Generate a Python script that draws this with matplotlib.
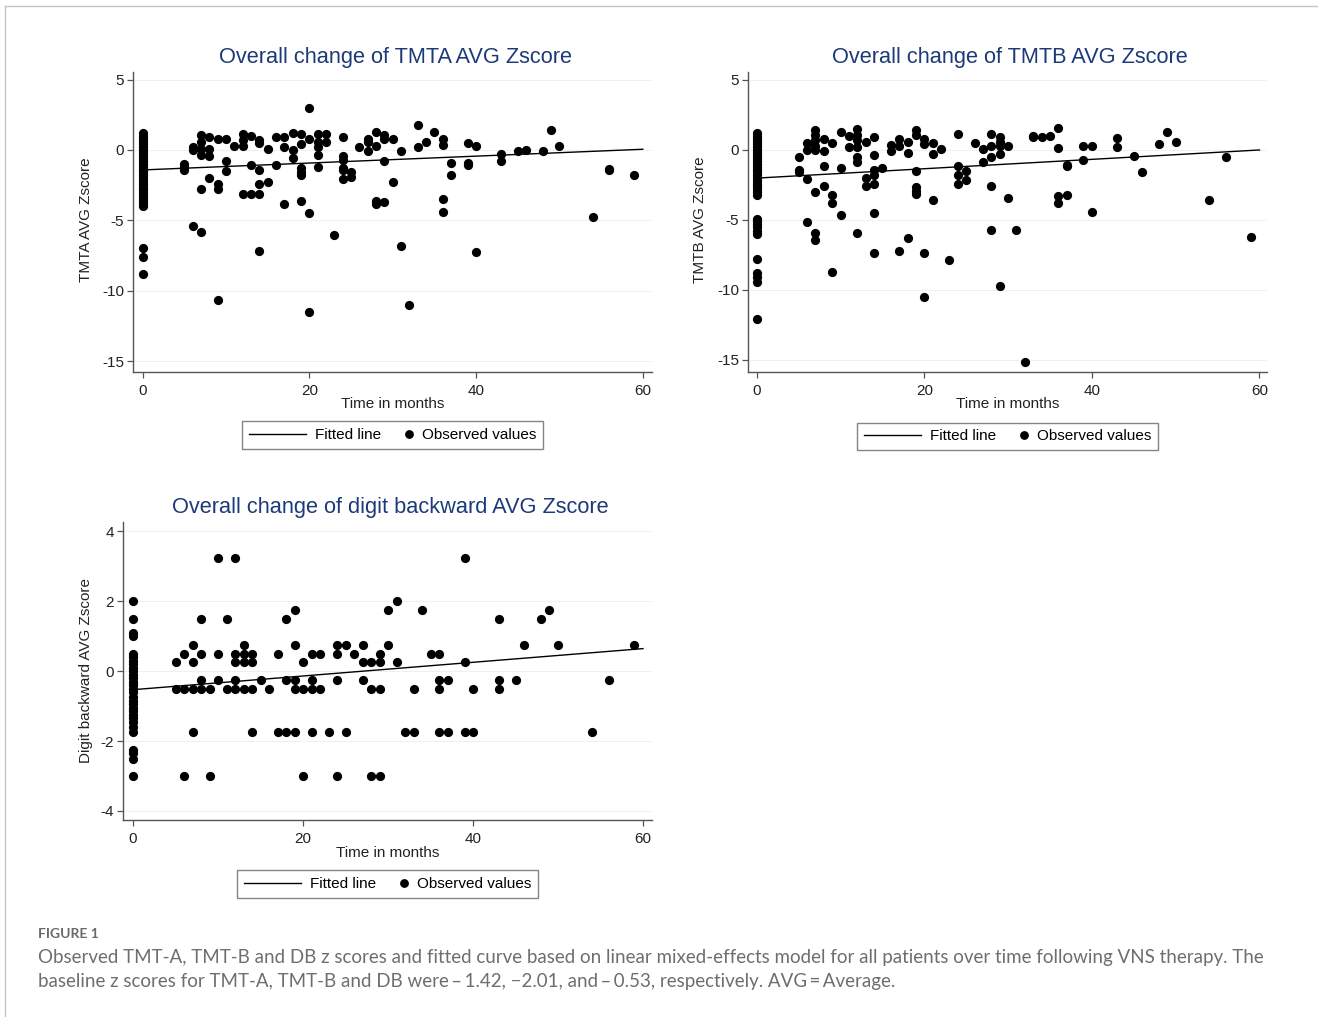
import matplotlib
matplotlib.use("Agg")
import matplotlib.pyplot as plt
from matplotlib.lines import Line2D
from matplotlib.legend_handler import HandlerBase
import numpy as np

plt.rcParams['font.family'] = ['Liberation Sans', 'DejaVu Sans']
plt.rcParams['axes.unicode_minus'] = False

# ---------------- data ----------------
tmta_time = ([0]*30 + [5]*3 + [6]*3 + [7]*6 + [8]*4 + [9]*4 + [10]*3 + [11] + [12]*4 + [13]*3 +
             [14]*6 + [15]*2 + [16]*2 + [17]*3 + [18]*3 + [19]*6 + [20]*4 + [21]*5 + [22]*2 + [23] +
             [24]*6 + [25]*2 + [26] + [27]*3 + [28]*4 + [29]*4 + [30]*2 + [31]*2 + [32] + [33]*2 +
             [34] + [35] + [36]*4 + [37]*2 + [39]*3 + [40]*2 + [43]*2 + [45] + [46] + [48] + [49] +
             [50] + [54] + [56]*2 + [59])
tmta_z = [1.2, 1.0, 0.8, 0.6, 0.4, 0.2, 0.0, -0.2, -0.4, -0.6, -0.8, -1.0, -1.2, -1.4, -1.6, -1.8,
          -2.0, -2.2, -2.4, -2.6, -2.8, -3.0, -3.2, -3.4, -3.6, -3.8, -4.0, -7.0, -7.6, -8.8,
          -1.0, -1.2, -1.4,
          0.2, 0.0, -5.4,
          1.05, 0.6, 0.1, -0.35, -2.8, -5.8,
          0.9, 0.05, -0.45, -2.0,
          0.8, -2.4, -2.75, -10.65,
          0.8, -0.8, -1.5,
          0.25,
          1.15, 0.7, 0.3, -3.15,
          1.0, -1.1, -3.15,
          0.7, 0.5, -1.4, -2.4, -3.15, -7.2,
          0.05, -2.25,
          0.9, -1.1,
          0.9, 0.2, -3.85,
          1.2, 0.0, -0.6,
          1.1, 0.45, -1.3, -1.6, -1.8, -3.6,
          3.0, 0.8, -4.5, -11.5,
          1.1, 0.6, 0.2, -0.35, -1.2,
          1.1, 0.6,
          -6.05,
          0.9, -0.45, -0.7, -1.3, -1.45, -2.05,
          -1.6, -1.9,
          0.2,
          0.8, 0.6, -0.1,
          1.3, 0.25, -3.6, -3.85,
          1.05, 0.75, -0.75, -3.7,
          0.8, -2.25,
          -0.05, -6.8,
          -11.05,
          1.8, 0.2,
          0.6,
          1.3,
          0.75, 0.35, -3.45, -4.4,
          -0.95, -1.75,
          0.5, -0.9, -1.05,
          0.3, -7.25,
          -0.3, -0.8,
          -0.1,
          0.0,
          -0.05,
          1.45,
          0.25,
          -4.75,
          -1.35, -1.45,
          -1.8]

tmtb_time = ([0]*34 + [5]*3 + [6]*4 + [7]*8 + [8]*4 + [9]*4 + [10]*3 + [11]*2 + [12]*7 + [13]*3 +
             [14]*7 + [15] + [16]*2 + [17]*3 + [18]*3 + [19]*6 + [20]*4 + [21]*3 + [22] + [23] +
             [24]*4 + [25]*2 + [26] + [27]*2 + [28]*5 + [29]*5 + [30]*2 + [31] + [32] + [33]*2 +
             [34] + [35] + [36]*4 + [37]*3 + [39]*2 + [40]*2 + [43]*2 + [45] + [46] + [48] + [49] +
             [50] + [54] + [56] + [59])
tmtb_z = [1.2, 1.0, 0.8, 0.6, 0.4, 0.2, 0.0, -0.2, -0.4, -0.6, -0.8, -1.0, -1.2, -1.4, -1.6, -1.8,
          -2.0, -2.2, -2.4, -2.6, -2.8, -3.0, -3.2, -4.9, -5.1, -5.3, -5.5, -5.8, -6.0, -7.8, -8.8,
          -9.1, -9.4, -12.1,
          -0.5, -1.45, -1.55,
          0.5, 0.0, -2.1, -5.15,
          1.45, 1.05, 0.7, 0.25, 0.0, -3.0, -5.9, -6.4,
          0.75, -0.05, -1.15, -2.6,
          0.5, -3.2, -3.8, -8.7,
          1.3, -1.3, -4.65,
          1.0, 0.2,
          1.5, 1.05, 0.7, 0.2, -0.5, -0.85, -5.95,
          0.6, -2.0, -2.6,
          0.95, -0.35, -1.45, -1.8, -2.4, -4.5, -7.35,
          -1.3,
          0.35, -0.05,
          0.8, 0.3, -7.2,
          0.6, -0.25, -6.3,
          1.45, 1.05, -1.5, -2.65, -2.9, -3.15,
          0.75, 0.45, -7.35, -10.5,
          0.5, -0.3, -3.55,
          0.05,
          -7.85,
          1.15, -1.15, -1.8, -2.4,
          -1.5, -2.15,
          0.5,
          0.05, -0.85,
          1.15, 0.3, -0.5, -2.55, -5.75,
          0.9, 0.6, 0.25, -0.3, -9.7,
          0.3, -3.45,
          -5.75,
          -15.15,
          1.0, 0.9,
          0.9,
          1.0,
          1.55, 0.15, -3.3, -3.8,
          -1.05, -1.15, -3.2,
          0.3, -0.7,
          0.3, -4.4,
          0.85, 0.2,
          -0.4,
          -1.55,
          0.45,
          1.3,
          0.6,
          -3.6,
          -0.5,
          -6.2]

db_time = ([0]*30 + [5]*2 + [6]*3 + [7]*4 + [8]*4 + [9]*2 + [10]*3 + [11]*2 + [12]*5 + [13]*4 +
           [14]*4 + [15] + [16] + [17]*2 + [18]*3 + [19]*5 + [20]*3 + [21]*4 + [22]*2 + [23] +
           [24]*4 + [25]*2 + [26] + [27]*3 + [28]*3 + [29]*4 + [30]*2 + [31]*2 + [32] + [33]*2 +
           [34] + [35] + [36]*4 + [37]*2 + [39]*3 + [40]*2 + [43]*3 + [45] + [46] + [48] + [49] +
           [50] + [54] + [56] + [59])
db_z = [2.0, 1.5, 1.1, 1.0, 0.5, 0.4, 0.3, 0.2, 0.1, 0.0, -0.1, -0.2, -0.3, -0.4, -0.5, -0.6,
        -0.75, -0.85, -0.95, -1.05, -1.15, -1.25, -1.35, -1.45, -1.6, -1.75, -2.25, -2.35, -2.5, -3.0,
        0.25, -0.5,
        0.5, -0.5, -3.0,
        0.75, 0.25, -0.5, -1.75,
        1.5, 0.5, -0.25, -0.5,
        -0.5, -3.0,
        3.25, 0.5, -0.25,
        1.5, -0.5,
        3.25, 0.5, 0.25, -0.25, -0.5,
        0.75, 0.5, 0.25, -0.5,
        0.5, 0.25, -0.5, -1.75,
        -0.25,
        -0.5,
        0.5, -1.75,
        1.5, -0.25, -1.75,
        1.75, 0.75, -0.25, -0.5, -1.75,
        0.25, -0.5, -3.0,
        0.5, -0.25, -0.5, -1.75,
        0.5, -0.5,
        -1.75,
        0.75, 0.5, -0.25, -3.0,
        0.75, -1.75,
        0.5,
        0.75, 0.25, -0.25,
        0.25, -0.5, -3.0,
        0.5, 0.25, -0.5, -3.0,
        1.75, 0.75,
        2.0, 0.25,
        -1.75,
        -0.5, -1.75,
        1.75,
        0.5,
        0.5, -0.25, -0.5, -1.75,
        -0.25, -1.75,
        3.25, 0.25, -1.75,
        -0.5, -1.75,
        1.5, -0.25, -0.5,
        -0.25,
        0.75,
        1.5,
        1.75,
        0.75,
        -1.75,
        -0.25,
        0.75]

fit_intercepts = [-1.42, -2.01, -0.53]
fit_slopes = [0.0245, 0.0335, 0.0196]

titles = ["Overall change of TMTA AVG Zscore",
          "Overall change of TMTB AVG Zscore",
          "Overall change of digit backward AVG Zscore"]
ylabels = ["TMTA AVG Zscore", "TMTB AVG Zscore", "Digit backward AVG Zscore"]
xlabel = "Time in months"
x_ticks = [0, 20, 40, 60]
y_ticks_tmt = [5, 0, -5, -10, -15]
y_ticks_db = [4, 2, 0, -2, -4]
legend_labels = ["Fitted line", "Observed values"]

caption_head = "FIGURE 1"
caption_lines = ["Observed TMT-A, TMT-B and DB z scores and fitted curve based on linear mixed-effects model for all patients over time following VNS therapy. The",
                 "baseline z scores for TMT-A, TMT-B and DB were\u2009\u2013\u20091.42, \u22122.01, and\u2009\u2013\u20090.53, respectively. AVG\u2009=\u2009Average."]

# ---------------- figure ----------------
W, H = 1318, 1017
fig = plt.figure(figsize=(W/100, H/100), dpi=100)
fig.patch.set_facecolor('white')

TITLE_C = '#1d3a78'
SPINE_C = '#555555'


class DotHandler(HandlerBase):
    """Legend handle that is only as wide as the dot itself."""
    def legend_artist(self, legend, orig_handle, fontsize, handlebox):
        handlebox.width = 5.0
        y = (handlebox.height - handlebox.ydescent) / 2
        art = Line2D([2.5], [y], marker='o', color='black', lw=0, markersize=5.3)
        art.set_transform(handlebox.get_transform())
        handlebox.add_artist(art)
        return art


def px_axes(l, t, r, b):
    return fig.add_axes([l/W, 1 - b/H, (r - l)/W, (b - t)/H])


panels = [
    dict(rect=(133, 72, 652, 372), t=tmta_time, z=tmta_z, xlim=(-1.16, 61.1), ylim=(-15.78, 5.54),
         yt=y_ticks_tmt, ylx=-0.0906, yly=0.508, xly=-0.107, legy=-0.21),
    dict(rect=(748, 72, 1267, 372), t=tmtb_time, z=tmtb_z, xlim=(-1.04, 60.9), ylim=(-15.86, 5.57),
         yt=y_ticks_tmt, ylx=-0.0925, yly=0.508, xly=-0.107, legy=-0.215),
    dict(rect=(123, 522, 652, 820), t=db_time, z=db_z, xlim=(-1.18, 61.06), ylim=(-4.26, 4.27),
         yt=y_ticks_db, ylx=-0.0705, yly=0.503, xly=-0.111, legy=-0.216),
]

for i, p in enumerate(panels):
    ax = px_axes(*p['rect'])
    ax.set_xlim(*p['xlim'])
    ax.set_ylim(*p['ylim'])
    for yv in p['yt']:
        ax.axhline(yv, color='#f0f0f0', lw=0.8, zorder=0)
    ax.scatter(p['t'], p['z'], s=44, color='black', linewidths=0, zorder=3)
    xs = np.array([0, 60])
    ax.plot(xs, fit_intercepts[i] + fit_slopes[i]*xs, color='black', lw=1.0, zorder=4)
    ax.set_xticks(x_ticks)
    ax.set_yticks(p['yt'])
    for s in ['top', 'right']:
        ax.spines[s].set_visible(False)
    for s in ['left', 'bottom']:
        ax.spines[s].set_color(SPINE_C)
        ax.spines[s].set_linewidth(1.0)
    ax.tick_params(axis='both', direction='out', length=4.5, width=0.9, color=SPINE_C,
                   labelsize=11, labelcolor='#222222')
    ax.tick_params(axis='x', pad=4)
    ax.tick_params(axis='y', pad=2)
    ax.set_xlabel(xlabel, fontsize=11, color='#222222')
    ax.xaxis.set_label_coords(0.5, p['xly'])
    ax.xaxis.label.set_va('center')
    ax.set_ylabel(ylabels[i], fontsize=11, color='#222222')
    ax.yaxis.set_label_coords(p['ylx'], p['yly'])
    ax.yaxis.label.set_va('center')
    ax.text(0.505, 1.049, titles[i], transform=ax.transAxes, ha='center', va='center',
            fontsize=15.7, color=TITLE_C)
    line_h = Line2D([0], [0], color='black', lw=1.0)
    dot_h = Line2D([0], [0], marker='o', color='black', lw=0)
    leg = ax.legend([line_h, dot_h], legend_labels, loc='center', bbox_to_anchor=(0.5, p['legy']),
                    ncol=2, frameon=True, fancybox=False, fontsize=11, handlelength=3.75,
                    columnspacing=1.6, handletextpad=0.6, borderpad=0.45, borderaxespad=0,
                    handler_map={dot_h: DotHandler()})
    leg.get_frame().set_edgecolor('#666666')
    leg.get_frame().set_linewidth(1.0)

# frame lines
fig.add_artist(Line2D([5/W, 1], [1 - 6/H, 1 - 6/H], transform=fig.transFigure, color='#c4c4c4', lw=1))
fig.add_artist(Line2D([5/W, 5/W], [0, 1 - 6/H], transform=fig.transFigure, color='#c4c4c4', lw=1))

# caption
fig.text(38/W, 1 - 934/H, caption_head, fontsize=10, color='#6a6a6a', fontweight='bold',
         family=['Lato', 'DejaVu Sans'], ha='left', va='center')
fig.text(38/W, 1 - 957/H, caption_lines[0], fontsize=13.5, color='#6e6e6e',
         family=['Lato', 'DejaVu Sans'], ha='left', va='center')
fig.text(38/W, 1 - 981/H, caption_lines[1], fontsize=13.5, color='#6e6e6e',
         family=['Lato', 'DejaVu Sans'], ha='left', va='center')

fig.savefig('out.png', dpi=100)
